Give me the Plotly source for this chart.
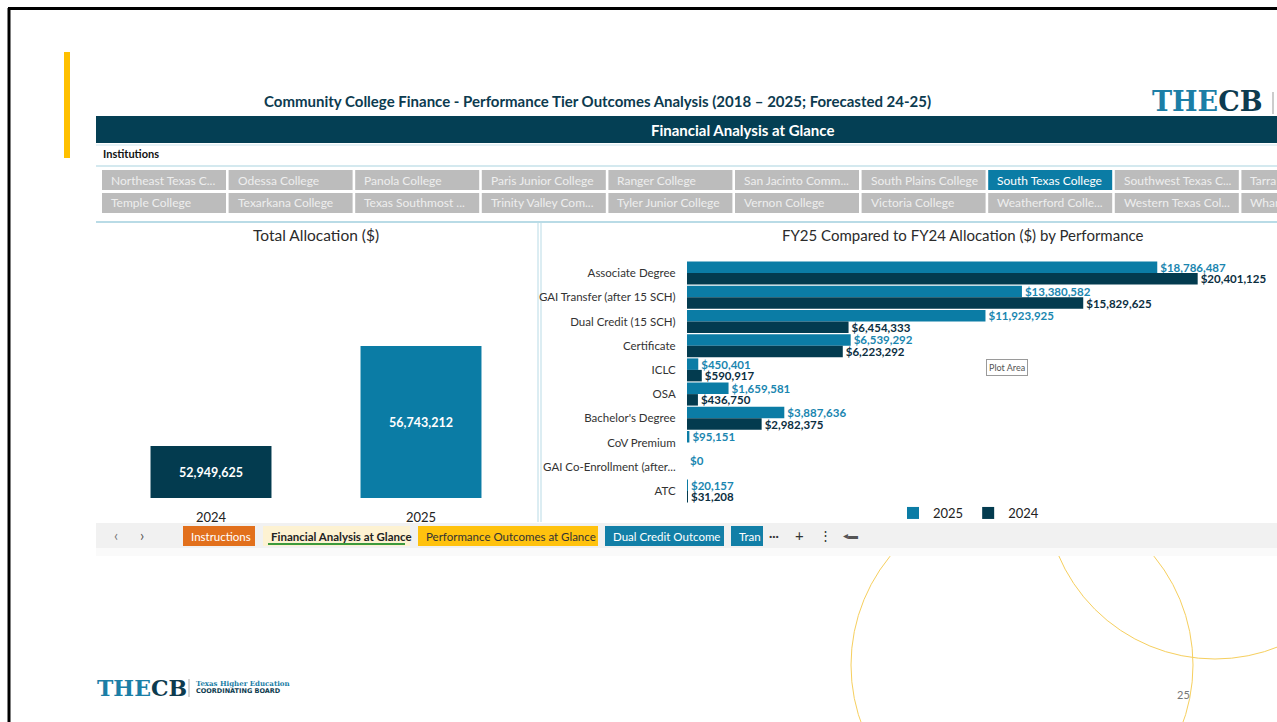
import plotly.graph_objects as go

W, H = 1277, 722
FONT = "Lato"

# ---- data ----
years = ["2024", "2025"]
total_alloc = [52949625, 56743212]
axis_floor = 50.98e6  # the total chart's value axis does not start at zero

measures = ["Associate Degree", "GAI Transfer (after 15 SCH)", "Dual Credit (15 SCH)", "Certificate",
            "ICLC", "OSA", "Bachelor's Degree", "CoV Premium", "GAI Co-Enrollment (after...", "ATC"]
alloc_2025 = [18786487, 13380582, 11923925, 6539292, 450401, 1659581, 3887636, 95151, 0, 20157]
alloc_2024 = [20401125, 15829625, 6454333, 6223292, 590917, 436750, 2982375, None, None, 31208]

slicer_row1 = ["Northeast Texas C...", "Odessa College", "Panola College", "Paris Junior College",
               "Ranger College", "San Jacinto Comm...", "South Plains College", "South Texas College",
               "Southwest Texas C...", "Tarra"]
slicer_row2 = ["Temple College", "Texarkana College", "Texas Southmost ...", "Trinity Valley Com...",
               "Tyler Junior College", "Vernon College", "Victoria College", "Weatherford Colle...",
               "Western Texas Col...", "Whar"]
selected = "South Texas College"

tabs = [("Instructions", "#e2701c", "white"),
        ("Financial Analysis at Glance", "#fdf2d2", "#222222"),
        ("Performance Outcomes at Glance", "#ffc20e", "#333333"),
        ("Dual Credit Outcome", "#127fa7", "white"),
        ("Tran", "#127fa7", "white")]

C25 = "#0b7ca5"
C24 = "#033b4f"
DARK = "#043f54"


def fx(p):
    return p / W


def fy(p):
    return 1 - p / H


fig = go.Figure()

# left: total allocation (bars drawn from the axis floor)
fig.add_bar(
    x=years, y=[v - axis_floor for v in total_alloc], base=axis_floor, xaxis="x", yaxis="y",
    marker=dict(color=[C24, C25], line=dict(width=0)),
    width=0.576,
    text=[f"{v:,}" for v in total_alloc], textposition="inside", insidetextanchor="middle",
    constraintext="none",
    textfont=dict(color="white", size=12.5, family=FONT, weight="bold"),
    showlegend=False, hoverinfo="skip",
)

# right: FY25 vs FY24 by performance
fig.add_bar(
    y=measures, x=alloc_2025, orientation="h", xaxis="x2", yaxis="y2", name="2025",
    marker=dict(color=C25, line=dict(width=0)),
    texttemplate="$%{x:,.0f}", textposition="outside", cliponaxis=False, constraintext="none",
    textfont=dict(color="#1a86b0", size=11.5, family=FONT, weight="bold"),
)
fig.add_bar(
    y=measures, x=alloc_2024, orientation="h", xaxis="x2", yaxis="y2", name="2024",
    marker=dict(color=C24, line=dict(width=0)),
    texttemplate="$%{x:,.0f}", textposition="outside", cliponaxis=False, constraintext="none",
    textfont=dict(color="#0b2e3f", size=11.5, family=FONT, weight="bold"),
)

shapes = []
ann = []


def rect(x0, y0, x1, y1, fill, line=None, layer="below"):
    shapes.append(dict(type="rect", xref="paper", yref="paper", x0=fx(x0), x1=fx(x1), y0=fy(y1), y1=fy(y0),
                       fillcolor=fill, line=dict(width=0 if line is None else 1, color=line or fill), layer=layer))


def hline(x0, x1, y, color, width=1, layer="below"):
    shapes.append(dict(type="line", xref="paper", yref="paper", x0=fx(x0), x1=fx(x1), y0=fy(y), y1=fy(y),
                       line=dict(color=color, width=width), layer=layer))


def vline(x, y0, y1, color, width=1, layer="below"):
    shapes.append(dict(type="line", xref="paper", yref="paper", x0=fx(x), x1=fx(x), y0=fy(y0), y1=fy(y1),
                       line=dict(color=color, width=width), layer=layer))


def text(x, y, s, size=12, color="#222", bold=False, xanchor="center", family=FONT, **kw):
    ann.append(dict(x=fx(x), y=fy(y), xref="paper", yref="paper", text=s, showarrow=False,
                    xanchor=xanchor, yanchor="middle",
                    font=dict(size=size, color=color, family=family, weight="bold" if bold else "normal"), **kw))


# decorative circles (behind screenshot)
for cx, cy, r in [(1022, 665, 171), (1215, 489, 170)]:
    shapes.append(dict(type="circle", xref="paper", yref="paper", x0=fx(cx - r), x1=fx(cx + r),
                       y0=fy(cy + r), y1=fy(cy - r), line=dict(color="#f6cf5e", width=1), layer="below"))
rect(96, 60, 1277, 556, "white")

# slide frame + accent bar
hline(8, 1277, 8.5, "black", 3, "above")
vline(9, 8, 722, "black", 3, "above")
rect(64, 52, 70, 158, "#ffc000")

# header
text(597, 101, "Community College Finance - Performance Tier Outcomes Analysis (2018 – 2025; Forecasted 24-25)",
     size=15, color="#0d3b4f", bold=True)
text(1150, 102, "<span style='color:#1b7ea6'>THE</span>CB", size=27, color="#0d3b4f", bold=True,
     xanchor="left", family="DejaVu Serif")
vline(1273, 92, 114, "#999999")
rect(96, 116, 1277, 143, DARK)
text(742, 130, "Financial Analysis at Glance", size=15, color="white", bold=True)
hline(96, 1277, 145, "#cfe6ee")
text(101, 154, "Institutions", size=11, color="#111", bold=True, xanchor="left")
hline(96, 1277, 166, "#a9d3df")

# slicer buttons
for row, names in enumerate([slicer_row1, slicer_row2]):
    y0 = 170 + row * 23
    for i, nm in enumerate(names):
        x0 = 102 + i * 126.6
        sel = nm == selected
        rect(x0, y0, x0 + 124, y0 + 20, "#0b7ca5" if sel else "#bcbcbc", layer="above")
        text(x0 + 7, y0 + 10, nm, size=12, color="white" if sel else "#eeeeee", xanchor="left")

# panels
hline(96, 1277, 222, "#b9dbe6", 2)
vline(538, 222, 522, "#b9dbe6", 1)
vline(541, 222, 522, "#b9dbe6", 1)
text(316, 235, "Total Allocation ($)", size=15.5, color="#2b2b2b")
text(963, 235, "FY25 Compared to FY24 Allocation ($) by Performance", size=15, color="#2b2b2b")
text(1007, 367, "Plot Area", size=9, color="#555", bordercolor="#9a9a9a", borderwidth=1, borderpad=2,
     bgcolor="white")

# sheet tab bar
rect(96, 523, 1277, 548, "#f1f1f1")
rect(96, 548, 1277, 556, "#fafafa")
text(116, 535, "‹", size=15, color="#777")
text(142, 535, "›", size=15, color="#555")
tab_x = [(183, 255), (263, 410), (418, 598), (605, 724), (731, 763)]
for (lbl, fill, fc), (a, b) in zip(tabs, tab_x):
    rect(a, 526, b, 546, fill, layer="above")
    text(a + 6, 536, lbl, size=11.5, color=fc, xanchor="left",
         bold=(lbl == "Financial Analysis at Glance"))
hline(268, 405, 544, "#3c9a3c", 2, "above")
text(774, 535, "···", size=12, color="#333", bold=True)
text(799, 535, "+", size=15, color="#333")
text(825, 535, "⋮", size=13, color="#333")
text(851, 535, "◂▬", size=10, color="#555")

# footer
text(95, 688, "<span style='color:#1b7ea6'>THE</span>CB", size=22, color="#0d3b4f", bold=True,
     xanchor="left", family="DejaVu Serif")
vline(189, 679, 697, "#aaaaaa")
text(194, 683, "Texas Higher Education", size=7, color="#1b7ea6", bold=True, xanchor="left",
     family="DejaVu Serif")
text(194, 691, "COORDINATING BOARD", size=6.5, color="#0d3b4f", bold=True, xanchor="left",
     family="DejaVu Sans")
text(1183, 694, "25", size=11, color="#777")

fig.update_layout(
    width=W, height=H, margin=dict(l=0, r=0, t=0, b=0),
    paper_bgcolor="white", plot_bgcolor="rgba(0,0,0,0)",
    font=dict(family=FONT, color="#222"),
    barmode="group", bargap=0.05, bargroupgap=0,
    shapes=shapes, annotations=ann,
    xaxis=dict(domain=[fx(106), fx(526)], showgrid=False, showline=False, zeroline=False,
               ticks="outside", ticklen=7, tickcolor="rgba(0,0,0,0)",
               tickfont=dict(size=13, color="#222", family=FONT), fixedrange=True),
    yaxis=dict(domain=[fy(498), fy(250)], range=[axis_floor, 60.39e6], visible=False),
    xaxis2=dict(domain=[fx(687), 1.0], range=[0, 23.57e6], visible=False),
    yaxis2=dict(domain=[fy(503), fy(261)], anchor="x2", autorange="reversed", showgrid=False,
                showline=False, zeroline=False, ticks="outside", ticklen=8, tickcolor="rgba(0,0,0,0)",
                tickfont=dict(size=11.5, color="#333", family=FONT)),
    legend=dict(orientation="h", x=fx(893), y=fy(513), xanchor="left", yanchor="middle",
                font=dict(size=13, color="#222", family=FONT), bgcolor="rgba(0,0,0,0)",
                itemwidth=30, traceorder="normal"),
    hovermode=False,
)

# the page body has a default 8px margin; drop it so the figure sits at the window origin
fig.write_html("out.html", config={"displayModeBar": False},
               post_script="document.body.style.margin='0';")
